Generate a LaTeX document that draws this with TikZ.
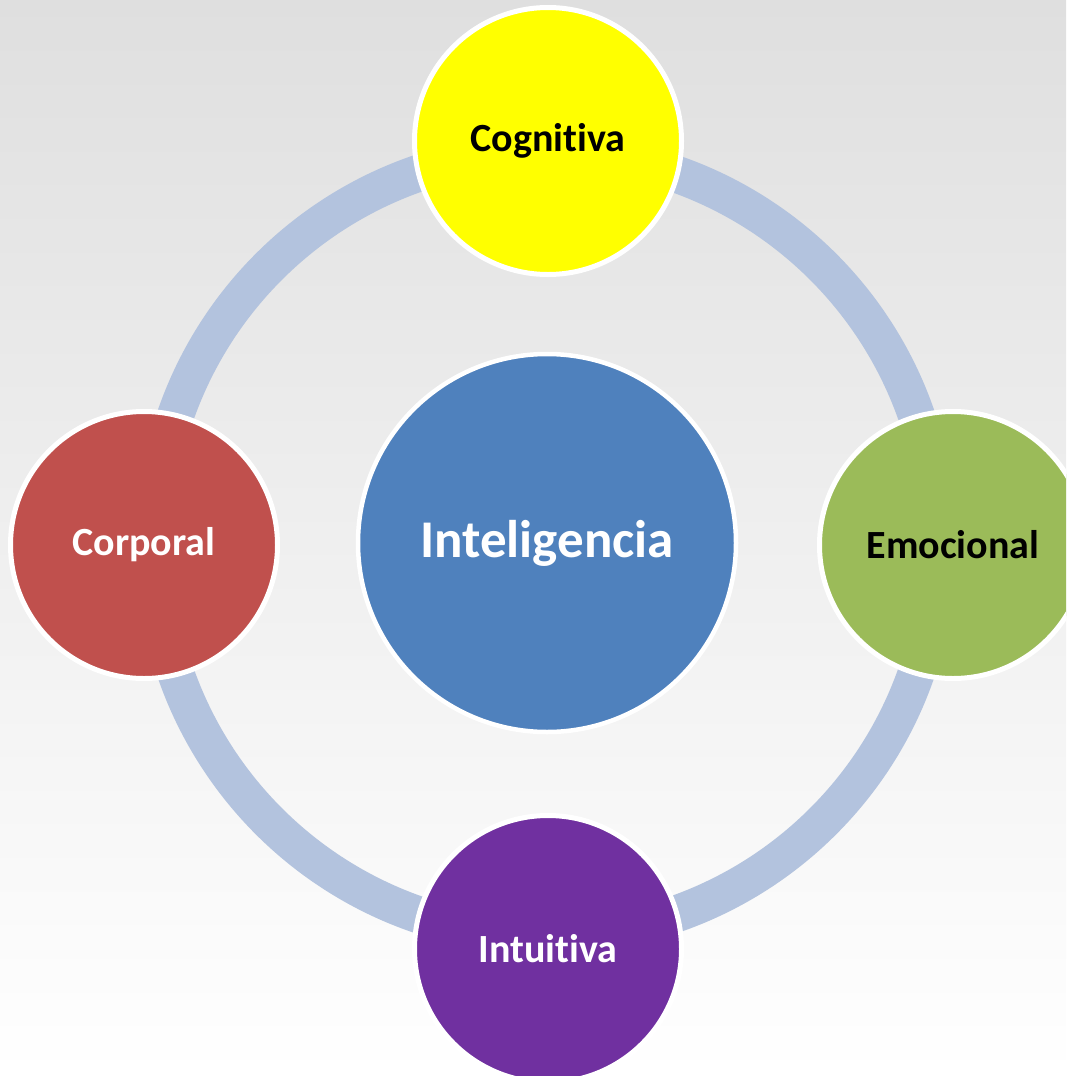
\documentclass[tikz,border=0pt]{standalone}
\usepackage{fontspec}
\setmainfont{Carlito}[Ligatures={NoCommon}]
\definecolor{ringc}{RGB}{179,195,222}
\definecolor{bgtop}{RGB}{223,223,223}
\definecolor{cyellow}{RGB}{255,255,0}
\definecolor{cgreen}{RGB}{155,187,89}
\definecolor{cred}{RGB}{192,80,77}
\definecolor{cpurple}{RGB}{112,48,160}
\definecolor{cblue}{RGB}{79,129,189}
\begin{document}
\begin{tikzpicture}[x=1pt,y=-1pt,
  bubble/.style={circle,draw=white,line width=5pt,minimum size=267pt,inner sep=0pt,font=\fontsize{40}{44}\selectfont\bfseries},
  hub/.style={circle,draw=white,line width=4.5pt,minimum size=378pt,inner sep=0pt,font=\fontsize{53}{60}\selectfont\bfseries,text=white},
  ring/.style={draw=ringc,line width=37pt}]
\useasboundingbox (0,0) rectangle (1066,1076);
\clip (0,0) rectangle (1066,1076);
\shade[top color=bgtop,bottom color=white] (0,0) rectangle (1066,1076);
\coordinate (o) at (546,544);
\draw[ring] (o) circle[radius=392];
\node[hub,fill=cblue] (c) at (547,543) {Inteligencia};
\node[bubble,fill=cyellow,text=black] (cog) at (548,141) {Cognitiva};
\node[bubble,fill=cgreen,text=black] (emo) at (953,545) {Emocional};
\node[bubble,fill=cpurple,text=white] (int) at (548,949) {Intuitiva};
\node[bubble,fill=cred,text=white] (cor) at (144,545) {Corporal};
\end{tikzpicture}
\end{document}
